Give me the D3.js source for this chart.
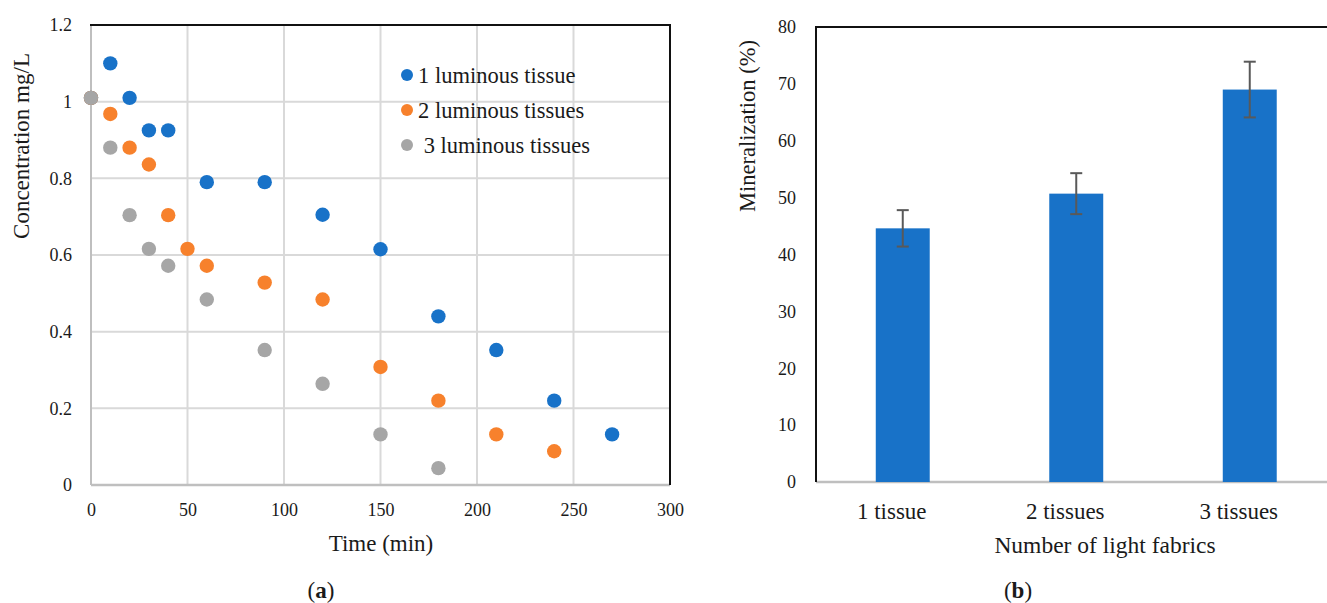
<!DOCTYPE html>
<html>
<head>
<meta charset="utf-8">
<script src="https://cdn.jsdelivr.net/npm/d3@7"></script>
<style>
  body { margin: 0; background: #fff; }
  text { font-family: "Liberation Serif", "DejaVu Serif", serif; fill: #1a1a1a; }
</style>
</head>
<body>
<div id="wrapper"></div>
<script>
// (a) concentration vs time, one series per number of luminous tissues
const seriesNames = ["1 luminous tissue", "2 luminous tissues", " 3 luminous tissues"];
const seriesColors = ["#1872c8", "#f7812c", "#a6a6a6"];
const time1 = [0, 10, 20, 30, 40, 60, 90, 120, 150, 180, 210, 240, 270];
const conc1 = [1.01, 1.1, 1.01, 0.925, 0.925, 0.79, 0.79, 0.705, 0.615, 0.44, 0.352, 0.22, 0.132];
const time2 = [0, 10, 20, 30, 40, 50, 60, 90, 120, 150, 180, 210, 240];
const conc2 = [1.01, 0.968, 0.88, 0.836, 0.704, 0.616, 0.572, 0.528, 0.484, 0.308, 0.22, 0.132, 0.088];
const time3 = [0, 10, 20, 30, 40, 60, 90, 120, 150, 180];
const conc3 = [1.01, 0.88, 0.704, 0.616, 0.572, 0.484, 0.352, 0.264, 0.132, 0.044];
const xTicksA = [0, 50, 100, 150, 200, 250, 300];
const yTicksA = [0, 0.2, 0.4, 0.6, 0.8, 1, 1.2];

// (b) mineralization per number of light fabrics
const categories = ["1 tissue", "2 tissues", "3 tissues"];
const mineral = [44.6, 50.7, 69.0];
const mineralErr = [3.2, 3.6, 4.9];
const yTicksB = [0, 10, 20, 30, 40, 50, 60, 70, 80];

const W = 1327, H = 603;
const serif = '"Liberation Serif", "DejaVu Serif", serif';
const svg = d3.select("#wrapper").append("svg")
  .attr("width", W)
  .attr("height", H);

// ---------- chart (a) ----------
let x = d3.scaleLinear().domain([0, 300]).range([91, 670]);
let y = d3.scaleLinear().domain([0, 1.2]).range([485, 25]);

let gA = svg.append("g");

// grid
gA.append("g").selectAll("line")
  .data(xTicksA.filter(d => d > 0 && d < 300))
  .join("line")
  .attr("x1", d => x(d)).attr("x2", d => x(d))
  .attr("y1", y(1.2)).attr("y2", y(0))
  .attr("stroke", "#d9d9d9").attr("stroke-width", 2);
gA.append("g").selectAll("line")
  .data(yTicksA.filter(d => d > 0 && d < 1.2))
  .join("line")
  .attr("x1", x(0)).attr("x2", x(300))
  .attr("y1", d => y(d)).attr("y2", d => y(d))
  .attr("stroke", "#d9d9d9").attr("stroke-width", 2);

// frame: grey left/bottom, black top/right
gA.append("line").attr("x1", x(0)).attr("x2", x(0)).attr("y1", y(1.2)).attr("y2", y(0))
  .attr("stroke", "#bfbfbf").attr("stroke-width", 2);
gA.append("line").attr("x1", x(0)).attr("x2", x(300)).attr("y1", y(0)).attr("y2", y(0))
  .attr("stroke", "#bfbfbf").attr("stroke-width", 2.5);
gA.append("line").attr("x1", x(0) - 1).attr("x2", x(300) + 1).attr("y1", y(1.2)).attr("y2", y(1.2))
  .attr("stroke", "#111").attr("stroke-width", 2);
gA.append("line").attr("x1", x(300)).attr("x2", x(300)).attr("y1", y(1.2)).attr("y2", y(0))
  .attr("stroke", "#111").attr("stroke-width", 2);

// axes (labels only)
let xAxisA = gA.append("g")
  .attr("transform", `translate(0,${y(0)})`)
  .call(d3.axisBottom(x).tickValues(xTicksA).tickSize(0).tickPadding(18));
let yAxisA = gA.append("g")
  .attr("transform", `translate(${x(0)},0)`)
  .call(d3.axisLeft(y).tickValues(yTicksA).tickSize(0).tickPadding(19).tickFormat(d3.format("~g")));
[xAxisA, yAxisA].forEach(a => {
  a.attr("font-family", serif).attr("font-size", 18);
  a.select(".domain").remove();
  a.selectAll("text").style("font-family", serif).attr("fill", "#1a1a1a");
});

// points
const seriesA = [
  {t: time1, c: conc1},
  {t: time2, c: conc2},
  {t: time3, c: conc3}
];
seriesA.forEach((s, i) => {
  gA.append("g").selectAll("circle")
    .data(s.t.map((t, j) => ({t: t, c: s.c[j]})))
    .join("circle")
    .attr("cx", d => x(d.t))
    .attr("cy", d => y(d.c))
    .attr("r", 7.2)
    .attr("fill", seriesColors[i]);
});

// legend
let legend = gA.append("g");
seriesNames.forEach((name, i) => {
  legend.append("circle")
    .attr("cx", 407).attr("cy", 75 + i * 35)
    .attr("r", 6).attr("fill", seriesColors[i]);
  legend.append("text")
    .attr("x", 418).attr("y", 75 + i * 35)
    .attr("dy", "0.35em")
    .style("font-size", "22.5px")
    .style("white-space", "pre")
    .text(name);
});

// titles
gA.append("text")
  .attr("transform", "translate(29,146) rotate(-90)")
  .attr("text-anchor", "middle")
  .style("font-size", "23px")
  .text("Concentration mg/L");
gA.append("text")
  .attr("x", 381).attr("y", 543).attr("dy", "0.35em")
  .attr("text-anchor", "middle")
  .style("font-size", "23px")
  .text("Time (min)");
let capA = gA.append("text")
  .attr("x", 321).attr("y", 590).attr("dy", "0.35em")
  .attr("text-anchor", "middle")
  .style("font-size", "23px");
capA.append("tspan").text("(");
capA.append("tspan").style("font-weight", "bold").text("a");
capA.append("tspan").text(")");

// ---------- chart (b) ----------
let xb = d3.scaleBand().domain(categories)
  .range([816, 1336.5])
  .paddingInner(0.689)
  .paddingOuter(0.3445);
let yb = d3.scaleLinear().domain([0, 80]).range([482, 27]);

let gB = svg.append("g");

gB.append("line").attr("x1", 816).attr("x2", W).attr("y1", yb(0)).attr("y2", yb(0))
  .attr("stroke", "#bfbfbf").attr("stroke-width", 2.5);
gB.append("line").attr("x1", 815).attr("x2", W).attr("y1", yb(80)).attr("y2", yb(80))
  .attr("stroke", "#111").attr("stroke-width", 2);
gB.append("line").attr("x1", 816).attr("x2", 816).attr("y1", yb(80)).attr("y2", yb(0))
  .attr("stroke", "#111").attr("stroke-width", 2);

gB.append("g").selectAll("rect")
  .data(categories.map((c, i) => ({c: c, v: mineral[i], e: mineralErr[i]})))
  .join("rect")
  .attr("x", d => xb(d.c))
  .attr("width", xb.bandwidth())
  .attr("y", d => yb(d.v))
  .attr("height", d => yb(0) - yb(d.v))
  .attr("fill", "#1872c8");

// error bars
let errs = gB.append("g")
  .attr("stroke", "#595959")
  .attr("stroke-width", 2)
  .selectAll("g")
  .data(categories.map((c, i) => ({c: c, v: mineral[i], e: mineralErr[i]})))
  .join("g");
errs.append("line")
  .attr("x1", d => xb(d.c) + xb.bandwidth() / 2).attr("x2", d => xb(d.c) + xb.bandwidth() / 2)
  .attr("y1", d => yb(d.v + d.e)).attr("y2", d => yb(d.v - d.e));
errs.append("line")
  .attr("x1", d => xb(d.c) + xb.bandwidth() / 2 - 6).attr("x2", d => xb(d.c) + xb.bandwidth() / 2 + 6)
  .attr("y1", d => yb(d.v + d.e)).attr("y2", d => yb(d.v + d.e));
errs.append("line")
  .attr("x1", d => xb(d.c) + xb.bandwidth() / 2 - 6).attr("x2", d => xb(d.c) + xb.bandwidth() / 2 + 6)
  .attr("y1", d => yb(d.v - d.e)).attr("y2", d => yb(d.v - d.e));

let xAxisB = gB.append("g")
  .attr("transform", `translate(0,${yb(0)})`)
  .call(d3.axisBottom(xb).tickSize(0).tickPadding(21));
xAxisB.attr("font-size", 23);
xAxisB.selectAll("text").attr("dx", -11);
let yAxisB = gB.append("g")
  .attr("transform", "translate(816,0)")
  .call(d3.axisLeft(yb).tickValues(yTicksB).tickSize(0).tickPadding(20));
yAxisB.attr("font-size", 18);
[xAxisB, yAxisB].forEach(a => {
  a.attr("font-family", serif);
  a.select(".domain").remove();
  a.selectAll("text").style("font-family", serif).attr("fill", "#1a1a1a");
});

gB.append("text")
  .attr("transform", "translate(755,126) rotate(-90)")
  .attr("text-anchor", "middle")
  .style("font-size", "22.5px")
  .text("Mineralization (%)");
gB.append("text")
  .attr("x", 1105).attr("y", 545).attr("dy", "0.35em")
  .attr("text-anchor", "middle")
  .style("font-size", "23.5px")
  .text("Number of light fabrics");
let capB = gB.append("text")
  .attr("x", 1018).attr("y", 590).attr("dy", "0.35em")
  .attr("text-anchor", "middle")
  .style("font-size", "23px");
capB.append("tspan").text("(");
capB.append("tspan").style("font-weight", "bold").text("b");
capB.append("tspan").text(")");
</script>
</body>
</html>
